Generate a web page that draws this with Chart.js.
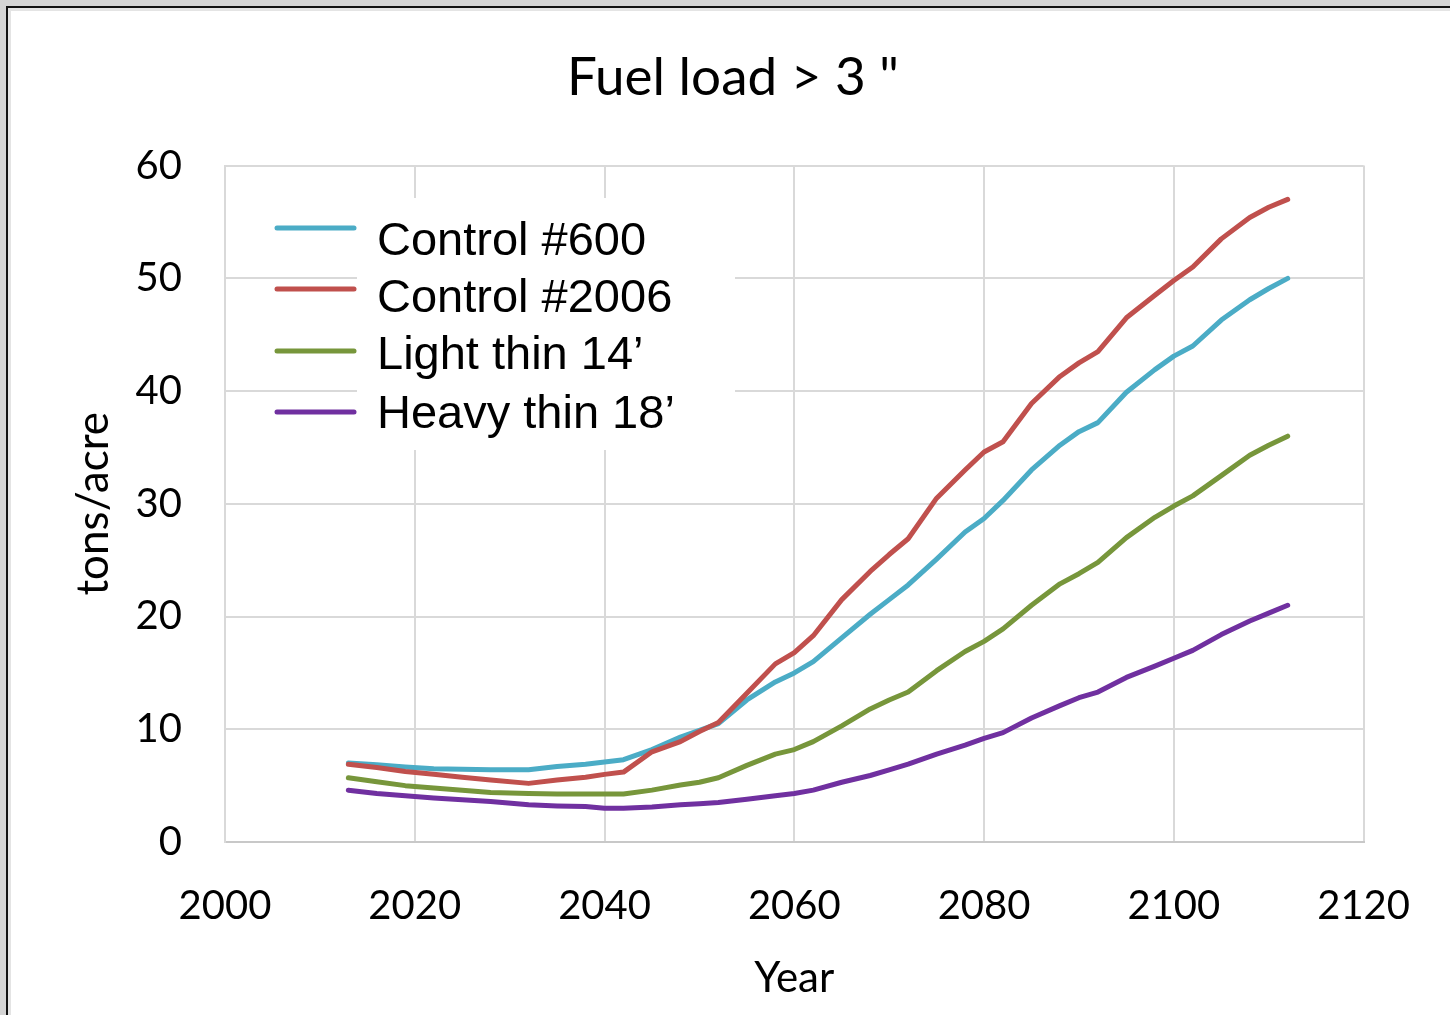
<!DOCTYPE html>
<html lang="en">
<head>
<meta charset="UTF-8">
<title>Fuel load > 3 "</title>
<script src="https://cdn.jsdelivr.net/npm/chart.js@4.4.1/dist/chart.umd.min.js"></script>
<style>
  body {
    margin: 0;
    background: #d4d4d4;
    width: 1450px;
    height: 1015px;
    overflow: hidden;
    position: relative;
  }
  .frame {
    position: absolute;
    left: 6px;
    top: 6px;
    width: 1444px;
    height: 1009px;
    border-left: 2px solid #111;
    border-top: 2px solid #111;
    background: #fff;
    box-shadow: inset 3px 3px 0 #e4e4e4;
  }
  canvas {
    position: absolute;
    left: 0;
    top: 0;
  }
</style>
</head>
<body>
<div class="frame"></div>
<canvas id="chart" width="1450" height="1015"></canvas>
<script>
  // simulation years and fuel load (tons/acre)
  var years = [2013, 2016, 2019, 2022, 2025, 2028, 2032, 2035, 2038, 2040, 2042, 2045, 2048, 2050,
    2052, 2055, 2058, 2060, 2062, 2065, 2068, 2070, 2072, 2075, 2078, 2080, 2082, 2085, 2088,
    2090, 2092, 2095, 2098, 2100, 2102, 2105, 2108, 2110, 2112];

  var control600 = [7.0, 6.85, 6.65, 6.5, 6.45, 6.4, 6.4, 6.7, 6.9, 7.1, 7.3, 8.2, 9.3, 9.9,
    10.5, 12.6, 14.2, 15.0, 16.0, 18.1, 20.2, 21.5, 22.8, 25.1, 27.5, 28.7, 30.3, 33.0, 35.2,
    36.4, 37.2, 39.9, 41.9, 43.1, 44.0, 46.3, 48.1, 49.1, 50.0];

  var control2006 = [6.9, 6.6, 6.25, 6.0, 5.75, 5.5, 5.2, 5.5, 5.75, 6.0, 6.2, 8.0, 8.9, 9.8,
    10.6, 13.2, 15.8, 16.8, 18.3, 21.5, 24.0, 25.5, 26.9, 30.5, 33.0, 34.6, 35.5, 38.9, 41.3,
    42.5, 43.5, 46.5, 48.5, 49.8, 51.0, 53.5, 55.4, 56.3, 57.0];

  var lightThin = [5.7, 5.35, 5.0, 4.8, 4.6, 4.4, 4.3, 4.25, 4.25, 4.25, 4.25, 4.6, 5.05, 5.3,
    5.7, 6.8, 7.8, 8.2, 8.9, 10.3, 11.8, 12.6, 13.3, 15.2, 16.9, 17.8, 18.9, 21.0, 22.9,
    23.8, 24.8, 27.0, 28.8, 29.8, 30.7, 32.5, 34.3, 35.2, 36.0];

  var heavyThin = [4.6, 4.3, 4.1, 3.9, 3.75, 3.6, 3.3, 3.2, 3.15, 3.0, 3.0, 3.1, 3.3, 3.4,
    3.5, 3.8, 4.1, 4.3, 4.6, 5.3, 5.9, 6.4, 6.9, 7.8, 8.6, 9.2, 9.7, 11.0, 12.1,
    12.8, 13.3, 14.6, 15.6, 16.3, 17.0, 18.4, 19.6, 20.3, 21.0];

  var seriesNames = ['Control #600', 'Control #2006', 'Light thin 14\u2019', 'Heavy thin 18\u2019'];
  var seriesColors = ['#4bacc6', '#c0504d', '#77963b', '#7030a0'];
  var seriesValues = [control600, control2006, lightThin, heavyThin];

  function toPoints(vals) {
    return vals.map(function(v, i) { return {x: years[i], y: v}; });
  }

  var datasets = seriesValues.map(function(vals, i) {
    return {
      label: seriesNames[i],
      data: toPoints(vals),
      borderColor: seriesColors[i],
      backgroundColor: seriesColors[i],
      borderWidth: 5,
      pointRadius: 0,
      tension: 0,
      fill: false,
      borderJoinStyle: 'round',
      borderCapStyle: 'round',
      order: seriesValues.length - i
    };
  });

  // legend drawn over a white box inside the plot, like the original
  var boxLegend = {
    id: 'boxLegend',
    afterDraw: function(chart) {
      var ctx = chart.ctx;
      var lineY = [228, 289, 351, 412];
      var textY = [255, 312, 369, 428];
      ctx.save();
      ctx.fillStyle = '#ffffff';
      ctx.fillRect(357, 198, 378, 252);
      ctx.lineWidth = 5;
      ctx.lineCap = 'round';
      for (var i = 0; i < seriesNames.length; i++) {
        ctx.strokeStyle = seriesColors[i];
        ctx.beginPath();
        ctx.moveTo(277, lineY[i]);
        ctx.lineTo(354, lineY[i]);
        ctx.stroke();
      }
      ctx.fillStyle = '#000000';
      ctx.font = '47px "Liberation Sans", Arial, sans-serif';
      ctx.textBaseline = 'alphabetic';
      ctx.textAlign = 'left';
      for (var j = 0; j < seriesNames.length; j++) {
        ctx.fillText(seriesNames[j], 377, textY[j]);
      }
      ctx.restore();
    }
  };

  var ctx = document.getElementById('chart').getContext('2d');
  var chart = new Chart(ctx, {
    type: 'line',
    data: { datasets: datasets },
    options: {
      responsive: false,
      animation: false,
      devicePixelRatio: 1,
      layout: { padding: { left: 16, right: 0, top: 0, bottom: 0 } },
      plugins: {
        legend: { display: false },
        tooltip: { enabled: false },
        title: {
          display: true,
          text: 'Fuel load > 3 "',
          color: '#000',
          font: { family: 'Lato', size: 53, weight: 'normal' },
          padding: { top: 46, bottom: 56 }
        }
      },
      scales: {
        x: {
          type: 'linear',
          min: 2000,
          max: 2120,
          afterFit: function(scale) { scale.height = 1015 - 842; },
          ticks: {
            stepSize: 20,
            color: '#000',
            padding: 40,
            maxRotation: 0,
            font: { family: 'Lato', size: 40 },
            callback: function(v) { return String(v); }
          },
          grid: { color: '#d9d9d9', lineWidth: 2, drawTicks: false },
          border: { color: '#c8c8c8', width: 2 },
          title: {
            display: true,
            text: 'Year',
            color: '#000',
            font: { family: 'Lato', size: 42 },
            padding: { top: 0, bottom: 11 }
          }
        },
        y: {
          min: 0,
          max: 60,
          afterFit: function(scale) { scale.width = 225 - 16; },
          ticks: {
            stepSize: 10,
            color: '#000',
            padding: 43,
            font: { family: 'Lato', size: 40 }
          },
          grid: { color: '#d9d9d9', lineWidth: 2, drawTicks: false },
          border: { color: '#d9d9d9', width: 2 },
          title: {
            display: true,
            text: 'tons/acre',
            color: '#000',
            font: { family: 'Lato', size: 44 },
            padding: { top: 51, bottom: 0 }
          }
        },
        // empty right-hand axis that only reserves the margin right of the plot
        yRight: {
          position: 'right',
          min: 0,
          max: 60,
          afterFit: function(scale) { scale.width = 82; },
          ticks: { display: false },
          grid: { display: false, drawTicks: false },
          border: { display: false }
        }
      }
    },
    plugins: [boxLegend]
  });
</script>
</body>
</html>
